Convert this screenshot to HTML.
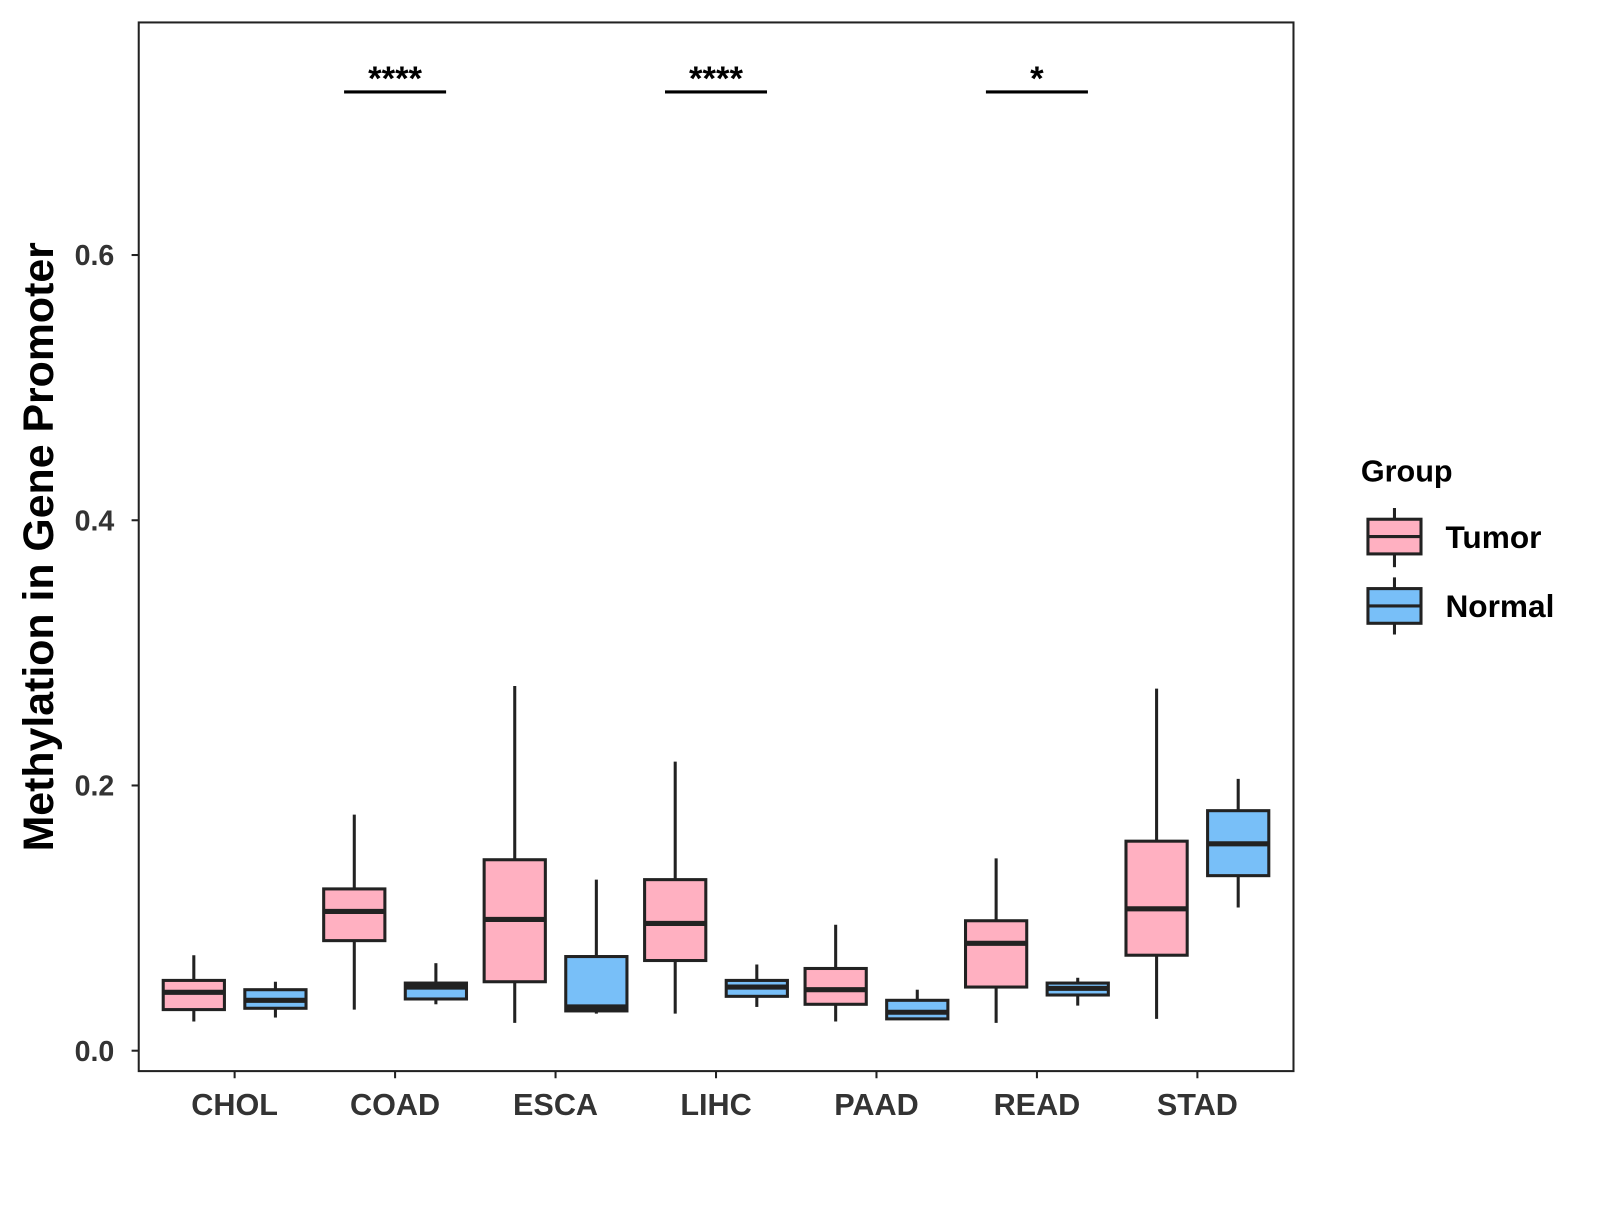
<!DOCTYPE html>
<html><head><meta charset="utf-8"><style>
body{margin:0;background:#fff}
svg text{font-family:"Liberation Sans",Arial,sans-serif;font-weight:bold}
</style></head><body>
<svg width="1600" height="1200" xmlns="http://www.w3.org/2000/svg">
<g transform="scale(1.0201)">
<rect x="136" y="22" width="1132" height="1028" fill="#fff" stroke="#222" stroke-width="2"/>
<g id="marks"></g>
<text transform="translate(52,536) rotate(-90)" text-anchor="middle" font-size="42" fill="#000">Methylation in Gene Promoter</text>
<g>
<text x="1334" y="472" font-size="30" fill="#000">Group</text>
<g>
<line x1="1367" y1="498" x2="1367" y2="556" stroke="#222" stroke-width="3"/>
<rect x="1341" y="509" width="52" height="34" fill="#FFB0C1" stroke="#222" stroke-width="3"/>
<line x1="1341" y1="526" x2="1393" y2="526" stroke="#222" stroke-width="3"/>
<text x="1417" y="537" font-size="31" fill="#000">Tumor</text></g>
<g>
<line x1="1367" y1="566" x2="1367" y2="622" stroke="#222" stroke-width="3"/>
<rect x="1341" y="577" width="52" height="34" fill="#78BFF8" stroke="#222" stroke-width="3"/>
<line x1="1341" y1="594" x2="1393" y2="594" stroke="#222" stroke-width="3"/>
<text x="1417" y="605" font-size="31" fill="#000">Normal</text></g>
</g>
</g>
</svg>
<script>
const categories=["CHOL","COAD","ESCA","LIHC","PAAD","READ","STAD"];
const yTicks=[0,0.2,0.4,0.6];
const yTickLabels=["0.0","0.2","0.4","0.6"];
// [lowWhisker, q1, median, q3, highWhisker]
const tumorStats=[[0.022,0.031,0.044,0.053,0.072],[0.031,0.083,0.105,0.122,0.178],[0.021,0.052,0.099,0.144,0.275],[0.028,0.068,0.096,0.129,0.218],[0.022,0.035,0.046,0.062,0.095],[0.021,0.048,0.081,0.098,0.145],[0.024,0.072,0.107,0.158,0.273]];
const normalStats=[[0.025,0.032,0.038,0.046,0.052],[0.035,0.039,0.048,0.051,0.066],[0.028,0.030,0.033,0.071,0.129],[0.033,0.041,0.048,0.053,0.065],[0.024,0.024,0.029,0.038,0.046],[0.034,0.042,0.047,0.051,0.055],[0.108,0.132,0.156,0.181,0.205]];
const sigCategories=["COAD","LIHC","READ"];
const sigLabels=["****","****","*"];
const sigLevel=0.723;

const ns="http://www.w3.org/2000/svg";
const svg=document.getElementById("marks");
const y=v=>1030-v*1300;
const x=i=>230+i*157.3;
function mk(t,a,p){const e=document.createElementNS(ns,t);for(const k in a)e.setAttribute(k,a[k]);(p||svg).appendChild(e);return e;}
yTicks.forEach((v,i)=>{
  const g=mk("g",{});
  
  
  mk("line",{x1:129,x2:136,y1:y(v),y2:y(v),stroke:"#222","stroke-width":2},g);
  const t=mk("text",{x:112,y:y(v)+10,"text-anchor":"end","font-size":28,fill:"#333"},g);t.textContent=yTickLabels[i];
});
categories.forEach((c,i)=>{
  const g=mk("g",{});
  
  
  mk("line",{x1:x(i),x2:x(i),y1:1050,y2:1057,stroke:"#222","stroke-width":2},g);
  const t=mk("text",{x:x(i),y:1093,"text-anchor":"middle","font-size":30,fill:"#333"},g);t.textContent=c;
});
function box(s,cx,fill,name){
  const g=mk("g",{});
  
  
  mk("line",{x1:cx,x2:cx,y1:y(s[0]),y2:y(s[4]),stroke:"#222","stroke-width":3},g);
  mk("rect",{x:cx-30,y:y(s[3]),width:60,height:y(s[1])-y(s[3]),fill:fill,stroke:"#222","stroke-width":3},g);
  mk("line",{x1:cx-30,x2:cx+30,y1:y(s[2]),y2:y(s[2]),stroke:"#222","stroke-width":5},g);
}
categories.forEach((c,i)=>{
  box(tumorStats[i],x(i)-40,"#FFB0C1","box-"+c.toLowerCase()+"-tumor");
  box(normalStats[i],x(i)+40,"#78BFF8","box-"+c.toLowerCase()+"-normal");
});
sigCategories.forEach((c,k)=>{
  const i=categories.indexOf(c);
  const g=mk("g",{});
  
  
  mk("line",{x1:x(i)-50,x2:x(i)+50,y1:y(sigLevel),y2:y(sigLevel),stroke:"#000","stroke-width":3},g);
  const t=mk("text",{x:x(i),y:y(sigLevel)-2,"text-anchor":"middle","font-size":34,fill:"#000"},g);t.textContent=sigLabels[k];
});
</script>
</body></html>
